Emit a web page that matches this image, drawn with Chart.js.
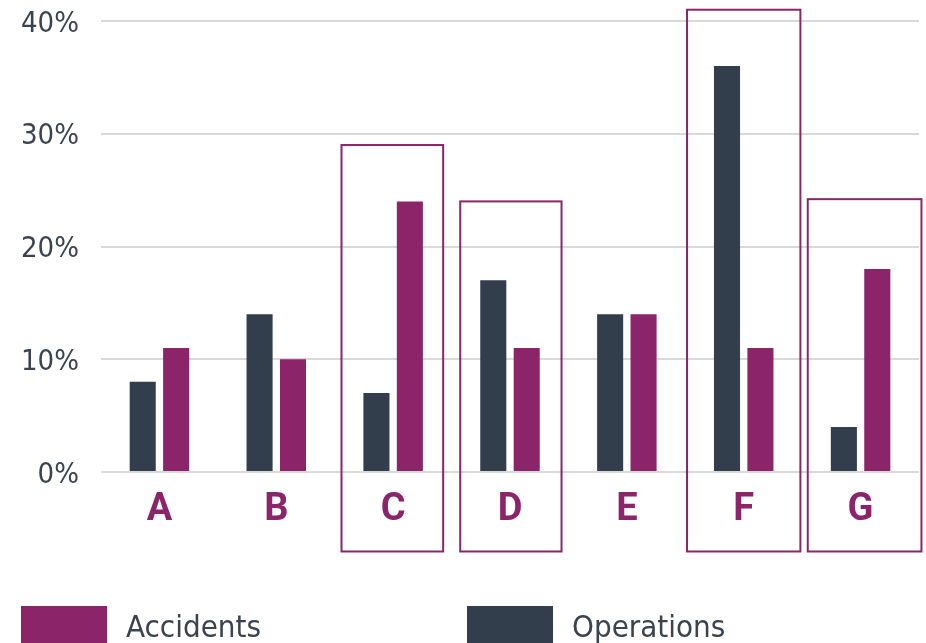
<!DOCTYPE html>
<html>
<head>
<meta charset="utf-8">
<script src="https://cdn.jsdelivr.net/npm/chart.js@4/dist/chart.umd.min.js"></script>
<style>
  html, body { margin: 0; padding: 0; background: #ffffff; }
  #wrap { width: 926px; height: 643px; position: relative; }
</style>
</head>
<body>
<div id="wrap"><canvas id="c"></canvas></div>
<script>
// ---- data ----
const categories = ['A', 'B', 'C', 'D', 'E', 'F', 'G'];
const operations = [8, 14, 7, 17, 14, 36, 4];
const accidents = [11, 10, 24, 11, 14, 11, 18];
const yTicks = [0, 10, 20, 30, 40];
// highlighted categories and the top of their frame (in % units)
const highlighted = ['C', 'D', 'F', 'G'];
const highlightTops = [29, 24, 41, 24.2];

// ---- styles ----
const MAGENTA = '#8c2469';
const SLATE = '#323e4c';
const TEXT = '#3a4350';
const FONT = '"DejaVu Sans Condensed", "DejaVu Sans", sans-serif';
// frame geometry (fractions of category width, bottom in % units)
const frameSides = { C: [-0.442, 0.428], D: [-0.426, 0.441], F: [-0.485, 0.485], G: [-0.452, 0.521] };
const frameBottom = -7.05;

const framePlugin = {
  id: 'frames',
  afterDatasetsDraw(chart) {
    const { ctx, scales: { x, y } } = chart;
    const cw = x.getPixelForValue(1) - x.getPixelForValue(0);
    ctx.save();
    ctx.strokeStyle = MAGENTA;
    ctx.lineWidth = 2;
    highlighted.forEach((cat, i) => {
      const idx = categories.indexOf(cat);
      const cx = x.getPixelForValue(idx);
      const s = frameSides[cat];
      const l = cx + s[0] * cw, r = cx + s[1] * cw;
      const t = y.getPixelForValue(highlightTops[i]);
      const b = y.getPixelForValue(frameBottom);
      ctx.strokeRect(l, t, r - l, b - t);
    });
    ctx.restore();
  }
};

const legendPlugin = {
  id: 'customLegend',
  afterDraw(chart) {
    const { ctx } = chart;
    const items = [
      { ds: chart.data.datasets[1], x: 21 },
      { ds: chart.data.datasets[0], x: 467 }
    ];
    ctx.save();
    ctx.font = '31px ' + FONT;
    ctx.textBaseline = 'alphabetic';
    ctx.textAlign = 'left';
    items.forEach(it => {
      ctx.fillStyle = it.ds.backgroundColor;
      ctx.fillRect(it.x, 606, 86, 37);
      ctx.fillStyle = TEXT;
      ctx.fillText(it.ds.label, it.x + 105, 637);
    });
    ctx.restore();
  }
};

new Chart(document.getElementById('c'), {
  type: 'bar',
  data: {
    labels: categories,
    datasets: [
      { label: 'Operations', data: operations, backgroundColor: SLATE, categoryPercentage: 0.572, barPercentage: 0.78 },
      { label: 'Accidents', data: accidents, backgroundColor: MAGENTA, categoryPercentage: 0.572, barPercentage: 0.78 }
    ]
  },
  options: {
    responsive: true,
    maintainAspectRatio: false,
    animation: false,
    layout: { padding: { top: 21, right: 7, left: 0, bottom: 0 } },
    plugins: {
      legend: { display: false },
      tooltip: { enabled: false }
    },
    scales: {
      x: {
        grid: { display: false, drawTicks: false },
        border: { display: false },
        ticks: { color: MAGENTA, padding: 16, font: { family: 'Roboto, "DejaVu Sans", sans-serif', size: 38, weight: 'bold' } },
        afterFit(s) { s.height = 171; s.paddingLeft = 0; s.paddingRight = 0; }
      },
      y: {
        min: 0, max: 40,
        afterBuildTicks(s) { s.ticks = yTicks.map(v => ({ value: v })); },
        grid: { color: '#d9d9d9', lineWidth: 2, drawTicks: false },
        border: { display: false },
        ticks: {
          color: TEXT, padding: 22, labelOffset: 3,
          font: { family: FONT, size: 29 },
          callback: v => v + '%'
        },
        afterFit(s) { s.width = 101; s.paddingTop = 0; s.paddingBottom = 0; }
      }
    }
  },
  plugins: [framePlugin, legendPlugin]
});
</script>
</body>
</html>
